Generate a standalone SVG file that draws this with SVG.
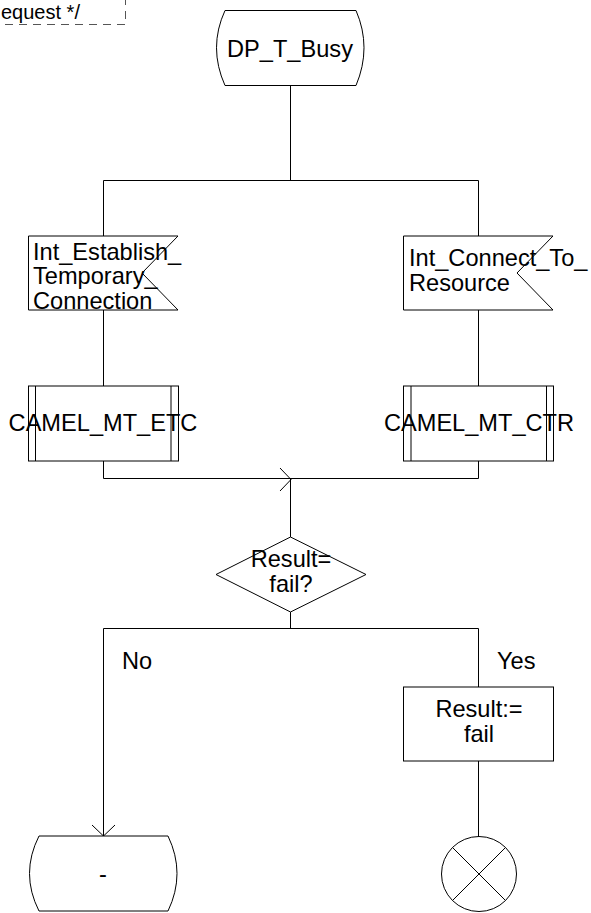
<svg xmlns="http://www.w3.org/2000/svg" width="591" height="913" viewBox="0 0 591 913">
<style>
.s{fill:#fff;stroke:#000;stroke-width:1}
.l{fill:none;stroke:#000;stroke-width:1}
.t{font-family:"Liberation Sans",Arial,sans-serif;font-size:23.6px;fill:#000}
.c{text-anchor:middle}
</style>
<rect width="591" height="913" fill="#fff"/>
<g id="comment">
<path d="M5,24.5 H125.5 V0" fill="none" stroke="#555" stroke-width="1" stroke-dasharray="8,6"/>
<text class="t" x="1" y="19" style="font-size:20px">equest */</text>
</g>
<g id="connectors">
<path class="l" d="M290.5,85 V180.5 M103.5,180.5 H478.5 M103.5,180.5 V236 M478.5,180.5 V236"/>
<path class="l" d="M103.5,310 V386 M478.5,310 V386"/>
<path class="l" d="M103.5,461 V478.5 H478.5 V461 M290.5,478.5 V537"/>
<path class="l" d="M280,468 L291,479.5 L280,491"/>
<path class="l" d="M290.5,612 V628.5 M103.5,628.5 H478.5 M103.5,628.5 V836 M478.5,628.5 V687"/>
<path class="l" d="M92,825 L103.5,836 L115,825"/>
<path class="l" d="M478.5,761 V837"/>
</g>
<g id="start">
<path class="s" d="M225,10.5 H356 Q372,47.5 356,85.5 H225 Q208,47.5 225,10.5 Z"/>
<text class="t c" x="290" y="57">DP_T_Busy</text>
</g>
<g id="sig1">
<path class="s" d="M28.5,236 H178 L142,273 L178,310 H28.5 Z"/>
<text class="t" x="33" y="260">Int_Establish_</text>
<text class="t" x="33" y="284">Temporary_</text>
<text class="t" x="33" y="309">Connection</text>
</g>
<g id="sig2">
<path class="s" d="M403.5,236 H553 L517,273 L553,310 H403.5 Z"/>
<text class="t" x="409" y="266">Int_Connect_To_</text>
<text class="t" x="409" y="291">Resource</text>
</g>
<g id="proc1">
<rect class="s" x="28.5" y="386" width="150" height="75"/>
<path class="l" d="M35.5,386 V461 M171,386 V461"/>
<text class="t c" x="103" y="431">CAMEL_MT_ETC</text>
</g>
<g id="proc2">
<rect class="s" x="403.5" y="386" width="150" height="75"/>
<path class="l" d="M411,386 V461 M546.5,386 V461"/>
<text class="t c" x="479" y="431">CAMEL_MT_CTR</text>
</g>
<g id="decision">
<path class="s" d="M290.5,537 L366,574.5 L290.5,612 L216,574.5 Z"/>
<text class="t c" x="291" y="567">Result=</text>
<text class="t c" x="291" y="592">fail?</text>
</g>
<text class="t" x="122" y="669">No</text>
<text class="t" x="497" y="669">Yes</text>
<g id="task">
<rect class="s" x="403.5" y="687" width="150" height="74"/>
<text class="t c" x="479" y="717">Result:=</text>
<text class="t c" x="479" y="742">fail</text>
</g>
<g id="next">
<path class="s" d="M39,836 H168 Q186,873.5 168,911 H39 Q20,873.5 39,836 Z"/>
<text class="t c" x="103" y="882">-</text>
</g>
<g id="stop">
<circle class="s" cx="479" cy="874" r="37.5"/>
<path class="l" d="M452.5,847.5 L505.5,900.5 M505.5,847.5 L452.5,900.5"/>
</g>
</svg>
